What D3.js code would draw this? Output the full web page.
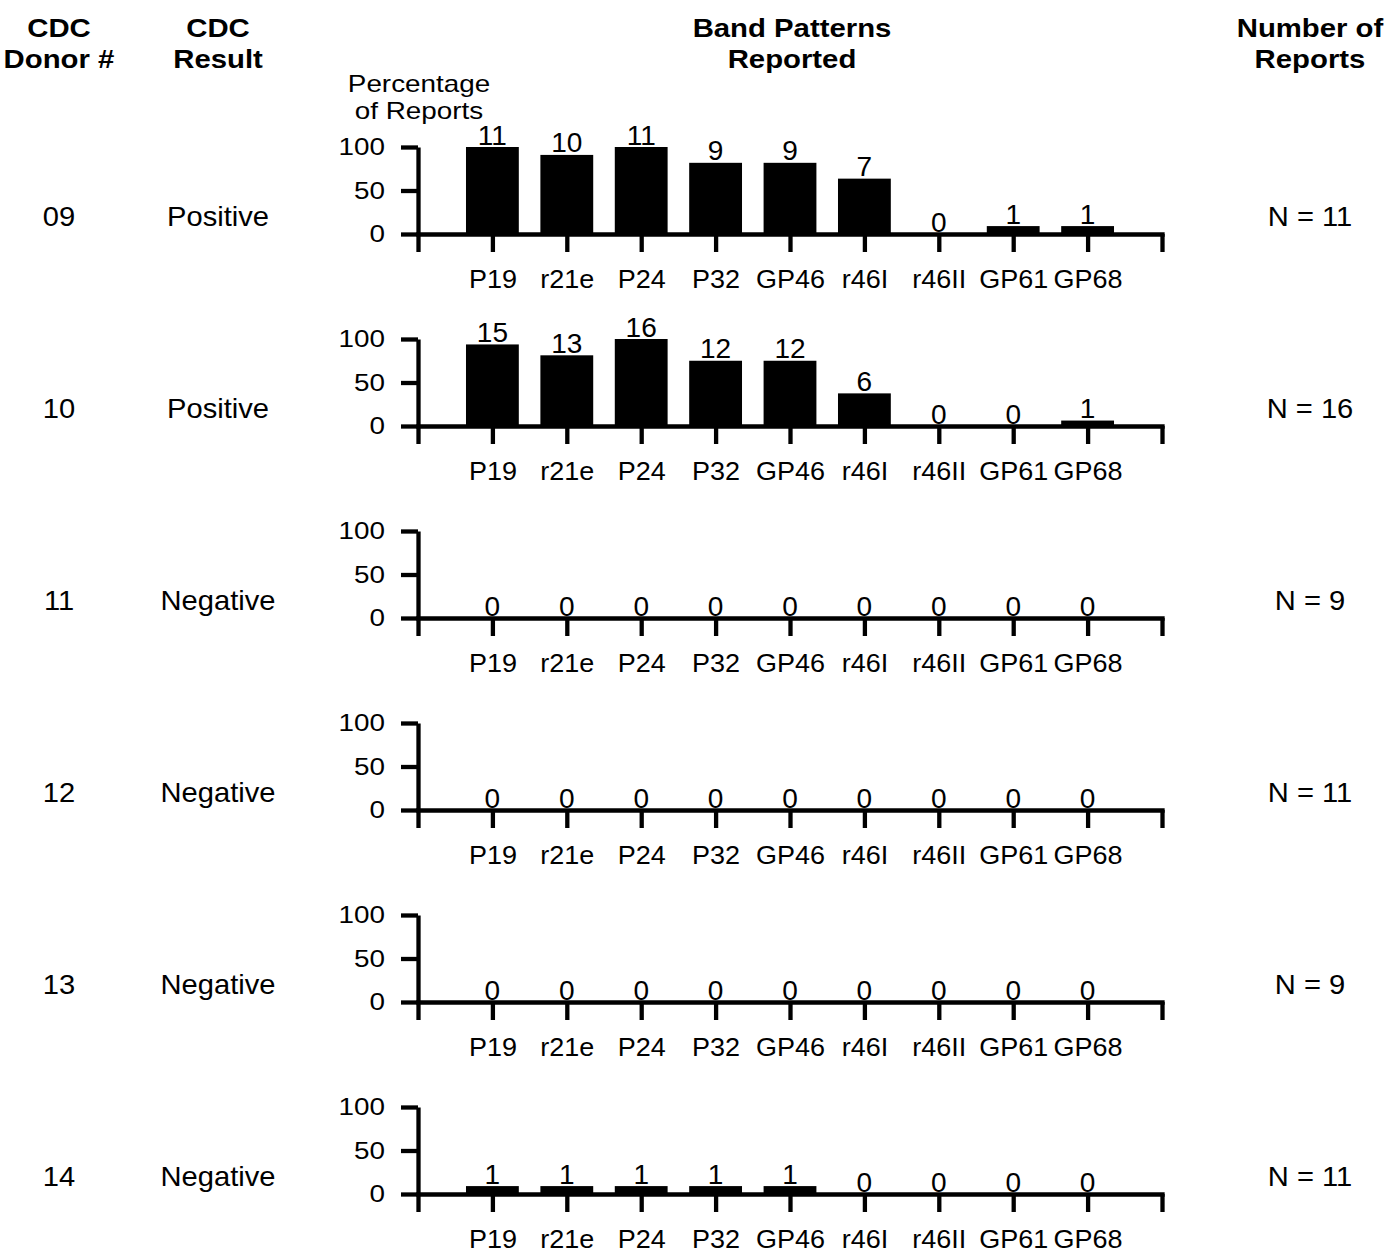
<!DOCTYPE html>
<html>
<head>
<meta charset="utf-8">
<script src="https://cdn.jsdelivr.net/npm/d3@7"></script>
<style>
    body { margin: 0; background: #fff; }
    svg text { font-family: "Liberation Sans", Arial, Helvetica, sans-serif; fill: #000; }
</style>
</head>
<body>
<div id="chart"></div>
<script>
// band names along each x axis
let bands = ["P19", "r21e", "P24", "P32", "GP46", "r46I", "r46II", "GP61", "GP68"];
let donors = ["09", "10", "11", "12", "13", "14"];
let results = ["Positive", "Positive", "Negative", "Negative", "Negative", "Negative"];
let totals = [11, 16, 9, 11, 9, 11];
// number of reports that listed each band, one list per donor
let counts09 = [11, 10, 11, 9, 9, 7, 0, 1, 1];
let counts10 = [15, 13, 16, 12, 12, 6, 0, 0, 1];
let counts11 = [0, 0, 0, 0, 0, 0, 0, 0, 0];
let counts12 = [0, 0, 0, 0, 0, 0, 0, 0, 0];
let counts13 = [0, 0, 0, 0, 0, 0, 0, 0, 0];
let counts14 = [1, 1, 1, 1, 1, 0, 0, 0, 0];
let yTicks = [0, 50, 100];

let allCounts = [counts09, counts10, counts11, counts12, counts13, counts14];

let W = 1391, H = 1257;
let svg = d3.select("#chart").append("svg")
    .attr("width", W)
    .attr("height", H);

let FONT = "Liberation Sans, Arial, Helvetica, sans-serif";

// text is a bit wide in the original, so stretch it with scaleX
function label(parent, x, y, str, size, sx, weight, anchor) {
    return parent.append("text")
        .attr("transform", "translate(" + x + "," + y + ") scale(" + sx + ",1)")
        .attr("text-anchor", anchor || "middle")
        .style("font-size", size + "px")
        .style("font-weight", weight || "normal")
        .text(str);
}

// column headers
let headers = [
    {x: 59, lines: ["CDC", "Donor #"]},
    {x: 218, lines: ["CDC", "Result"]},
    {x: 792, lines: ["Band Patterns", "Reported"]},
    {x: 1310, lines: ["Number of", "Reports"]}
];
headers.forEach(function(h) {
    label(svg, h.x, 37, h.lines[0], 25.5, 1.15, "bold");
    label(svg, h.x, 68, h.lines[1], 25.5, 1.15, "bold");
});

label(svg, 419, 92, "Percentage", 24, 1.16);
label(svg, 419, 119, "of Reports", 24, 1.16);

let x0 = 418, x1 = 1162;
let xScale = d3.scaleLinear().domain([0, bands.length + 1]).range([x0, x1]);
let step = xScale(1) - xScale(0);
let barW = step * 0.71;
let axisStroke = 4.3;

donors.forEach(function(donor, i) {
    let zero = 234 + 192 * i;
    let yScale = d3.scaleLinear().domain([0, 100]).range([zero, zero - 87]);
    let g = svg.append("g");
    let pct = allCounts[i].map(function(c) { return c / totals[i] * 100; });

    // bars
    g.selectAll(".bar")
        .data(pct)
        .enter().append("rect")
        .attr("x", function(d, j) { return xScale(j + 1) - barW / 2; })
        .attr("width", barW)
        .attr("y", function(d) { return yScale(d); })
        .attr("height", function(d) { return zero - yScale(d); })
        .attr("fill", "#000");

    // y axis
    let yAxis = g.append("g")
        .attr("transform", "translate(" + x0 + ",0)")
        .call(d3.axisLeft(yScale).tickValues(yTicks).tickSize(17).tickSizeOuter(0).tickPadding(11));
    yAxis.selectAll("path, line").attr("stroke", "#000").attr("stroke-width", axisStroke);
    yAxis.selectAll("text")
        .attr("x", -33 / 1.16)
        .attr("transform", "scale(1.16,1)")
        .style("font-size", "24px")
        .style("font-family", FONT);

    // x axis, tick at 0 continues the y axis below the baseline
    let xAxis = g.append("g")
        .attr("transform", "translate(0," + zero + ")")
        .call(d3.axisBottom(xScale)
            .tickValues(d3.range(0, bands.length + 2))
            .tickFormat(function(d) { return bands[d - 1] || ""; })
            .tickSize(18).tickSizeOuter(0).tickPadding(18));
    xAxis.selectAll("path, line").attr("stroke", "#000").attr("stroke-width", axisStroke);
    xAxis.select(".domain").attr("stroke-linecap", "square");
    xAxis.selectAll("text")
        .attr("transform", "scale(1.08,1)")
        .style("font-size", "25px")
        .style("font-family", FONT);

    // counts on top of the bars
    pct.forEach(function(p, j) {
        label(g, xScale(j + 1), yScale(p) - 2.5, allCounts[i][j], 27.5, 1.02);
    });

    label(svg, 59, zero - 8.5, donor, 28, 1.04);
    label(svg, 218, zero - 8.5, results[i], 28, 1.04);
    label(svg, 1310, zero - 8.5, "N = " + totals[i], 28, 1.04);
});
</script>
</body>
</html>
